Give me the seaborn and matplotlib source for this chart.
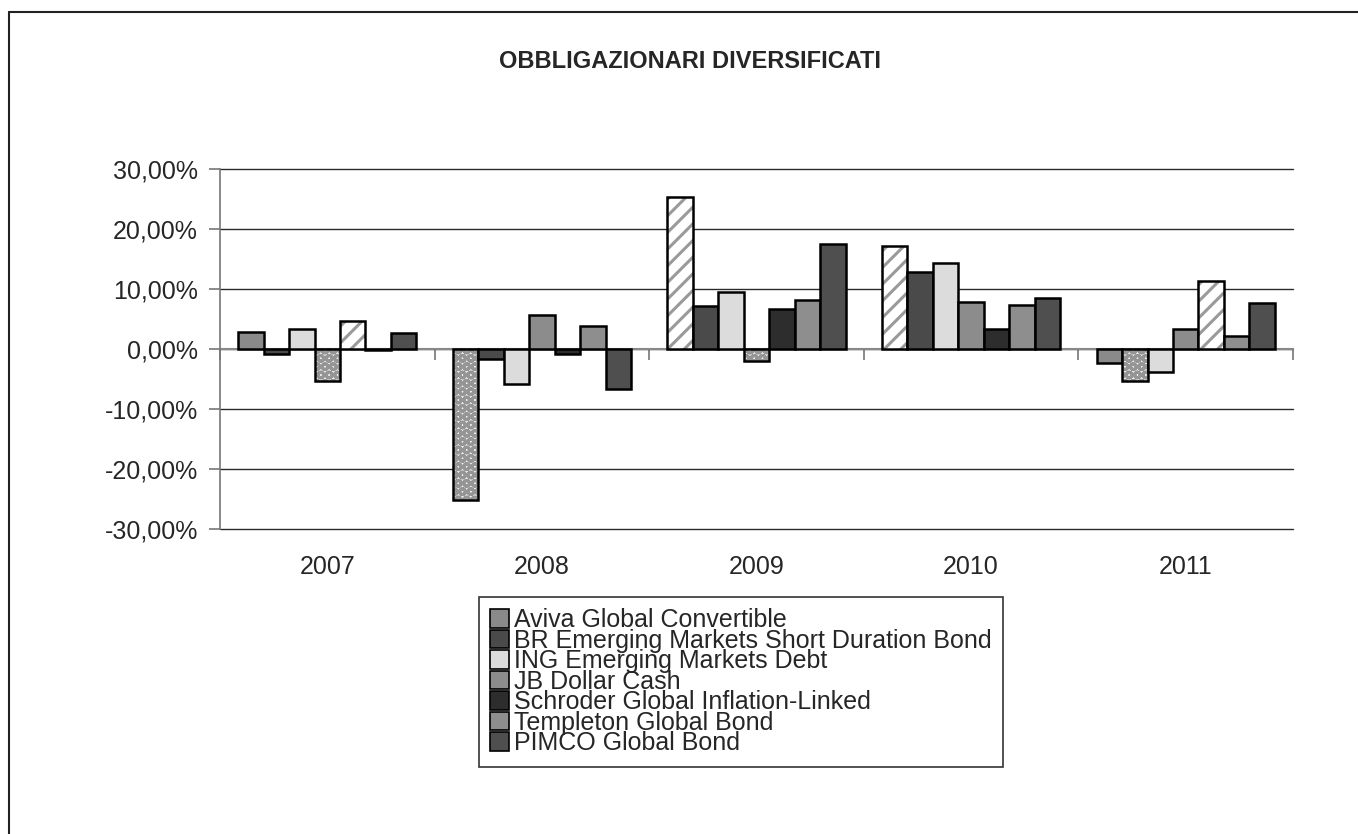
import matplotlib
matplotlib.use("Agg")
import matplotlib.pyplot as plt
import numpy as np
import pandas as pd
import seaborn as sns
from matplotlib.ticker import FuncFormatter, FixedLocator, NullFormatter
from matplotlib.patches import Patch
from matplotlib.lines import Line2D
from matplotlib.colors import to_rgba

# ---------------- data ----------------
years = ["2007", "2008", "2009", "2010", "2011"]
funds = [
    "Aviva Global Convertible",
    "BR Emerging Markets Short Duration Bond",
    "ING Emerging Markets Debt",
    "JB Dollar Cash",
    "Schroder Global Inflation-Linked",
    "Templeton Global Bond",
    "PIMCO Global Bond",
]
aviva = [2.9, -25.2, 25.4, 17.2, -2.3]
br_emerging = [-0.9, -1.7, 7.1, 12.9, -5.3]
ing_emerging = [3.3, -5.8, 9.5, 14.4, -3.9]
jb_dollar = [-5.3, 5.7, -2.0, 7.8, 3.4]
schroder = [4.7, -0.9, 6.7, 3.4, 11.3]
templeton = [-0.2, 3.8, 8.2, 7.3, 2.2]
pimco = [2.7, -6.6, 17.45, 8.55, 7.7]
series = [aviva, br_emerging, ing_emerging, jb_dollar, schroder, templeton, pimco]

# ---------------- style ----------------
colors = ["#8a8a8a", "#4a4a4a", "#dcdcdc", "#8c8c8c", "#2d2d2d", "#8e8e8e", "#4f4f4f"]
# special fills per fund per year: "s" = diagonal stripes, "d" = dots
fills = [
    ["", "d", "s", "s", ""],
    ["", "", "", "", "d"],
    ["", "", "", "", ""],
    ["d", "", "d", "", ""],
    ["s", "", "", "", "s"],
    ["", "", "", "", ""],
    ["", "", "", "", ""],
]

sns.set_style("white")
plt.rcParams["font.family"] = ["Liberation Sans", "DejaVu Sans"]
plt.rcParams["hatch.linewidth"] = 2.2

df = pd.DataFrame(
    [(y, f, v) for f, vals in zip(funds, series) for y, v in zip(years, vals)],
    columns=["Year", "Fund", "Return"],
)

fig = plt.figure(figsize=(13.58, 8.34), dpi=100)
ax = fig.add_axes([220 / 1358, 1 - 529 / 834, (1293 - 220) / 1358, (529 - 169) / 834])

sns.barplot(
    data=df, x="Year", y="Return", hue="Fund", hue_order=funds, order=years,
    palette=colors, saturation=1, width=0.83, edgecolor="black", linewidth=1.8,
    legend=False, ax=ax, zorder=3,
)

def set_hc(p, c):
    if hasattr(p, "set_hatchcolor"):
        p.set_hatchcolor(c)
    else:
        p._hatch_color = to_rgba(c)

for i, cont in enumerate(ax.containers):
    for j, p in enumerate(cont.patches):
        kind = fills[i][j]
        if kind == "s":
            p.set_facecolor("white")
            p.set_hatch("//")
            set_hc(p, "#9a9a9a")
        elif kind == "d":
            p.set_facecolor("#f2f2f2")
            p.set_hatch("OO")
            set_hc(p, "#959595")

ax.set_ylim(-30, 30)
ax.set_xlim(-0.5, len(years) - 0.5)
ax.yaxis.set_major_locator(FixedLocator(np.arange(-30, 31, 10)))
ax.yaxis.set_major_formatter(FuncFormatter(lambda v, _: f"{v:.2f}%".replace(".", ",")))
ax.grid(axis="y", color="#2a2a2a", linewidth=1.0, zorder=0)
ax.grid(axis="x", visible=False)
ax.set_axisbelow(True)
for gl in ax.get_ygridlines():
    gl.set_clip_on(False)

for s in ["top", "right"]:
    ax.spines[s].set_visible(False)
ax.spines["left"].set_color("#777777")
ax.spines["left"].set_linewidth(1.2)
ax.spines["bottom"].set_position(("data", 0))
ax.spines["bottom"].set_color("#888888")
ax.spines["bottom"].set_linewidth(1.5)
ax.spines["bottom"].set_zorder(2)

ax.tick_params(axis="y", which="major", direction="out", length=8, width=1.2,
               color="#777777", labelsize=18, pad=8, left=True)
ax.tick_params(axis="x", which="major", length=0, labelsize=18, pad=148)
ax.xaxis.set_minor_locator(FixedLocator(np.arange(-0.5, len(years), 1.0)))
ax.xaxis.set_minor_formatter(NullFormatter())
ax.tick_params(axis="x", which="minor", direction="out", length=8, width=1.2,
               color="#777777", bottom=True)
ax.set_xlabel("")
ax.set_ylabel("")

fig.text(690 / 1358, 1 - 61 / 834, "OBBLIGAZIONARI DIVERSIFICATI", ha="center",
         va="center", fontsize=17, fontweight="bold")

handles = [Patch(facecolor=c, edgecolor="black", linewidth=1.2) for c in colors]
leg = ax.legend(
    handles, funds, loc="upper left", bbox_to_anchor=(479 / 1358, 1 - 597 / 834),
    bbox_transform=fig.transFigure, frameon=True, fancybox=False, shadow=False,
    fontsize=18, labelspacing=-0.14, handlelength=0.75, handleheight=0.75,
    handletextpad=0.2, borderpad=0.45, borderaxespad=0,
)
leg.get_frame().set_edgecolor("black")
leg.get_frame().set_linewidth(1.2)

# outer frame of the chart area
fig.add_artist(Line2D([9 / 1358, 9 / 1358], [0, 1 - 12 / 834], transform=fig.transFigure,
                      color="#222222", linewidth=1.5))
fig.add_artist(Line2D([9 / 1358, 1], [1 - 12 / 834, 1 - 12 / 834], transform=fig.transFigure,
                      color="#222222", linewidth=1.5))

fig.savefig("out.png", dpi=100, facecolor="white")
